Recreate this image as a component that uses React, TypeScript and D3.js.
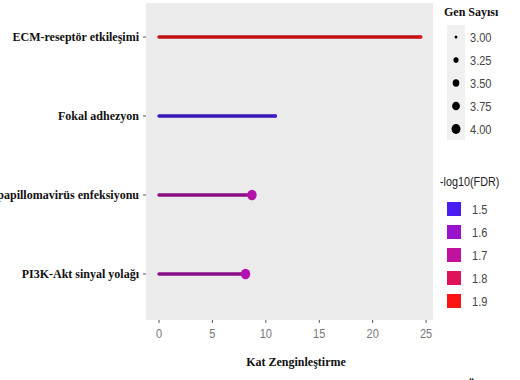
import * as d3 from 'd3'

// Pathways (top to bottom)
const pathways = ['ECM-reseptör etkileşimi', 'Fokal adhezyon', 'papillomavirüs enfeksiyonu', 'PI3K-Akt sinyal yolağı']
const foldEnrichment = [24.5, 10.9, 8.7, 8.1]
const geneCount = [3, 3, 4, 4]
const fdr = [1.9, 1.5, 1.67, 1.66]

const xTicks = [0, 5, 10, 15, 20, 25]
const sizeBreaks = [3.0, 3.25, 3.5, 3.75, 4.0]
const fdrBreaks = [1.5, 1.6, 1.7, 1.8, 1.9]
const fdrColors = ['#4a1ef0', '#9a12cc', '#c0129c', '#e0125a', '#fa1414']

const W = 520
const H = 380
const PANEL = { left: 146, right: 433, top: 3, bottom: 320 }
const SERIF = '"Liberation Serif", "Times New Roman", serif'
const SANS = '"Liberation Sans", Arial, sans-serif'

export default function App() {
  const x = d3.scaleLinear().domain([0, 24.44]).range([159, 420.1])
  const y = d3.scalePoint<string>().domain(pathways).range([37, 274])
  const r = d3.scaleRadial().domain([3, 4]).range([1.5, 4.7])
  const col = d3.scaleLinear<string>().domain(fdrBreaks).range(fdrColors).interpolate(d3.interpolateRgb)

  return (
    <svg width={W} height={H} style={{ position: 'absolute', left: 0, top: 0, background: '#fff' }}>
      <rect x={PANEL.left} y={PANEL.top} width={PANEL.right - PANEL.left} height={PANEL.bottom - PANEL.top} fill="#ebebeb" />

      {/* Lollipops */}
      {pathways.map((p, i) => (
        <g key={p}>
          <line x1={x(0)} x2={x(foldEnrichment[i])} y1={y(p)} y2={y(p)}
            stroke={d3.color(col(fdr[i]))!.darker(0.7).toString()} strokeWidth={3.4} strokeLinecap="round" />
          <ellipse cx={x(foldEnrichment[i])} cy={y(p)} rx={r(geneCount[i])} ry={r(geneCount[i]) * 1.1} fill={col(fdr[i])} />
        </g>
      ))}

      {/* Y axis */}
      {pathways.map(p => (
        <g key={p}>
          <line x1={PANEL.left - 3} x2={PANEL.left} y1={y(p)} y2={y(p)} stroke="#555" strokeWidth={1} />
          <text x={PANEL.left - 7} y={y(p)} dy="0.35em" textAnchor="end" fontFamily={SERIF}
            fontWeight="bold" fontSize={12} fill="#111">{p}</text>
        </g>
      ))}

      {/* X axis */}
      {xTicks.map(t => (
        <g key={t}>
          <line x1={x(t)} x2={x(t)} y1={PANEL.bottom} y2={PANEL.bottom + 3} stroke="#555" strokeWidth={1} />
          <text transform={`translate(${x(t)},${PANEL.bottom + 18}) scale(0.85,1)`} textAnchor="middle"
            fontFamily={SANS} fontSize={13} fill="#777">{t}</text>
        </g>
      ))}
      <text x={296} y={366} textAnchor="middle" fontFamily={SERIF} fontWeight="bold" fontSize={12} fill="#111">Kat Zenginleştirme</text>

      {/* Size legend */}
      <text x={444} y={16} fontFamily={SERIF} fontWeight="bold" fontSize={12} fill="#111">Gen Sayısı</text>
      <rect x={447} y={25} width={18} height={115} fill="#f0f0f0" />
      {sizeBreaks.map((s, i) => (
        <g key={s}>
          <ellipse cx={456} cy={37 + i * 23} rx={r(s) * 0.95} ry={r(s) * 1.05} fill="#000" />
          <text transform={`translate(470,${37 + i * 23}) scale(0.85,1)`} dy="0.35em"
            fontFamily={SANS} fontSize={13} fill="#444">{s.toFixed(2)}</text>
        </g>
      ))}

      {/* Color legend */}
      <text transform="translate(440,186) scale(0.9,1)" fontFamily={SANS} fontSize={12} fill="#222">-log10(FDR)</text>
      {fdrBreaks.map((f, i) => (
        <g key={f}>
          <rect x={447} y={202 + i * 23} width={14} height={14} fill={col(f)} />
          <text transform={`translate(472,${209 + i * 23}) scale(0.85,1)`} dy="0.35em"
            fontFamily={SANS} fontSize={13} fill="#444">{f.toFixed(1)}</text>
        </g>
      ))}

      <text x={466} y={391} fontFamily={SERIF} fontWeight="bold" fontSize={14} fill="#111">Ö</text>
    </svg>
  )
}
